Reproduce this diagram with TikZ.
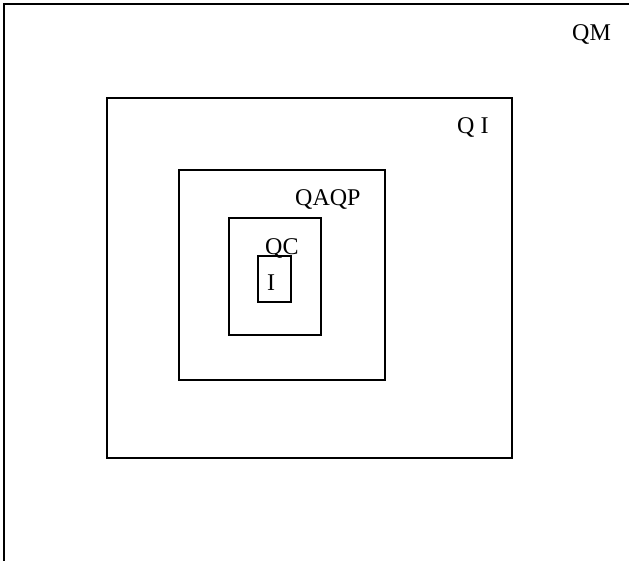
\documentclass[tikz,border=0pt]{standalone}
\usepackage{fontspec}
\setmainfont{Liberation Serif}
\begin{document}
\begin{tikzpicture}[x=1pt,y=-1pt,
  box/.style={draw=black,line width=1.3pt},
  lbl/.style={anchor=base west,inner sep=0pt,font=\fontsize{24}{28}\selectfont}]
\useasboundingbox (0,0) rectangle (629,560);
\draw[line width=2pt] (4,561) -- (4,4) -- (630,4);
\draw[box] (107,98) rectangle (512,458);
\draw[box] (179,170) rectangle (385,380);
\draw[box] (229,218) rectangle (321,335);
\draw[box] (258,256) rectangle (291,302);
\node[lbl] (qm) at (572,40) {QM};
\node[lbl] (qi) at (457,133) {Q I};
\node[lbl] (qaqp) at (295,205) {QAQP};
\node[lbl] (qc) at (265,254) {QC};
\node[lbl] (i) at (267,290) {I};
\end{tikzpicture}
\end{document}
